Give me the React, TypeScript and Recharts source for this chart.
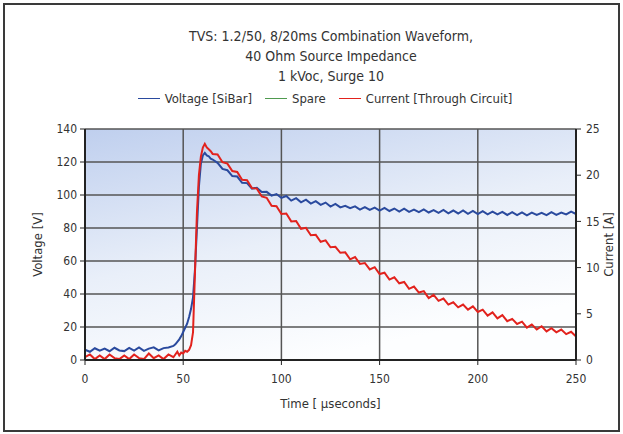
import React from "react";
import {
  ComposedChart,
  Line,
  XAxis,
  YAxis,
  CartesianGrid,
  Legend,
} from "recharts";

const titleLines = [
  "TVS: 1.2/50, 8/20ms Combination Waveform,",
  "40 Ohm Source Impedance",
  "1 kVoc, Surge 10",
];

const timeUs = [
  0, 2.5, 5, 7.5, 10, 12.5, 15, 17.5, 20, 22.5, 25, 27.5, 30, 32.5, 35, 37.5, 40, 42.5,
  45, 46, 47, 48, 49, 50, 51, 52, 53, 54, 55, 56, 57, 58, 59, 60, 61, 62, 63, 64, 65,
  67.5, 70, 72.5, 75, 77.5, 80, 82.5, 85, 87.5, 90, 92.5, 95, 97.5, 100, 102.5, 105,
  107.5, 110, 112.5, 115, 117.5, 120, 122.5, 125, 127.5, 130, 132.5, 135, 137.5, 140,
  142.5, 145, 147.5, 150, 152.5, 155, 157.5, 160, 162.5, 165, 167.5, 170, 172.5, 175,
  177.5, 180, 182.5, 185, 187.5, 190, 192.5, 195, 197.5, 200, 202.5, 205, 207.5, 210,
  212.5, 215, 217.5, 220, 222.5, 225, 227.5, 230, 232.5, 235, 237.5, 240, 242.5, 245,
  247.5, 250,
];

const voltageSiBar = [
  6.2, 5.0, 7.1, 5.6, 6.9, 5.3, 7.4, 5.8, 5.4, 7.3, 5.7, 7.6, 5.5, 6.9, 7.7, 5.8, 7.2, 7.6,
  8.5, 9.5, 11, 12.5, 14.5, 17, 19.5, 22, 26, 31, 38, 55, 80, 105, 119, 124, 125.5, 124,
  123.5, 122, 121.5,
  119.5, 115.8, 115.0, 111.5, 111.2, 107.4, 107.2, 103.9, 104.4, 101.8, 101.9, 99.6, 100.6,
  98.2, 99.4, 96.6, 98.1, 95.6, 97.2, 94.8, 96.3, 94.0, 95.4, 93.0, 94.6, 92.5, 93.4, 92.0,
  93.1, 91.2, 92.7, 91.0, 92.3, 90.6, 92.2, 90.3, 91.8, 89.9, 91.7, 89.8, 91.2, 89.6, 91.3,
  89.4, 90.8, 89.2, 91.0, 88.9, 90.6, 88.8, 90.7, 88.6, 90.3, 88.4, 90.2, 88.3, 89.9, 88.2,
  89.8, 87.9, 89.6, 87.8, 89.5, 87.7, 89.3, 87.9, 89.2, 87.8, 89.6, 88.0, 89.4, 88.2, 89.9,
  88.5,
];

const currentThroughCircuit = [
  0.3, 0.6, 0.1, 0.5, 0.1, 0.6, 0.2, 0.1, 0.5, 0.1, 0.6, 0.2, 0.1, 0.7, 0.2, 0.5, 0.1, 0.6,
  0.3, 0.6, 0.9, 0.5, 0.8, 0.7, 1.0, 0.9, 1.1, 1.6, 3.0, 9.5, 16.0, 20.0, 22.0, 23.0, 23.4,
  23.0, 22.8, 22.6, 22.3,
  22.25, 21.4, 21.25, 20.45, 20.35, 19.5, 19.45, 18.6, 18.55, 17.7,
  17.55, 16.7, 16.65, 15.8, 15.85, 15.0, 15.05, 14.2, 14.3, 13.5,
  13.55, 12.8, 12.95, 12.2, 12.25, 11.6, 11.65, 10.9, 11.15, 10.4,
  10.5, 9.8, 10.05, 9.3, 9.45, 8.7, 8.95, 8.3, 8.45, 7.7,
  7.95, 7.3, 7.45, 6.7, 7.05, 6.4, 6.65, 6.0, 6.25, 5.7,
  6.0, 5.45, 5.8, 5.2, 5.45, 4.8, 5.15, 4.5, 4.85, 4.2,
  4.45, 3.9, 4.15, 3.5, 3.85, 3.3, 3.65, 3.1, 3.45, 3.0,
  3.3, 2.8, 3.05, 2.55,
];

const timeTicks = [0, 50, 100, 150, 200, 250];
const voltageTicks = [0, 20, 40, 60, 80, 100, 120, 140];
const currentTicks = [0, 5, 10, 15, 20, 25];

const seriesNames = {
  voltage: "Voltage [SiBar]",
  spare: "Spare",
  current: "Current [Through Circuit]",
};
const legendOrder = [seriesNames.voltage, seriesNames.spare, seriesNames.current];

const data = timeUs.map((t, i) => ({
  t,
  voltage: voltageSiBar[i],
  current: currentThroughCircuit[i],
}));

const FONT = '"DejaVu Sans Condensed", "DejaVu Sans", sans-serif';
const TEXT = "#333";

const LegendContent = (props: any) => {
  const payload = [...(props.payload || [])].sort(
    (a: any, b: any) => legendOrder.indexOf(a.value) - legendOrder.indexOf(b.value)
  );
  return (
    <div
      style={{
        display: "flex",
        justifyContent: "center",
        alignItems: "center",
        fontFamily: FONT,
        fontSize: 13,
        color: TEXT,
        paddingLeft: 40,
      }}
    >
      {payload.map((p: any) => (
        <div
          key={p.value}
          style={{ display: "flex", alignItems: "center", marginRight: 13 }}
        >
          <div
            style={{
              width: 22,
              height: 0,
              borderTop: `1.5px solid ${p.color}`,
              marginRight: 5,
            }}
          />
          <span>{p.value}</span>
        </div>
      ))}
    </div>
  );
};

export default function App() {
  return (
    <div
      style={{
        position: "absolute",
        left: 0,
        top: 0,
        width: 623,
        height: 434,
        background: "#fff",
        overflow: "hidden",
      }}
    >
      <div
        style={{
          position: "absolute",
          left: 3,
          top: 3,
          width: 613,
          height: 425,
          border: "2px solid #3a3a3a",
        }}
      />
      <div
        style={{
          position: "absolute",
          left: 0,
          top: 26,
          width: 662,
          textAlign: "center",
          fontFamily: FONT,
          fontSize: 14,
          lineHeight: "20px",
          color: TEXT,
        }}
      >
        {titleLines.map((l) => (
          <div key={l}>{l}</div>
        ))}
      </div>
      <ComposedChart
        width={623}
        height={434}
        data={data}
        margin={{ top: 129, right: 0, bottom: 30, left: 0 }}
        style={{ position: "absolute", left: 0, top: 0 }}
      >
        <defs>
          <linearGradient id="plotBg" x1="0" y1="0" x2="0.45" y2="1">
            <stop offset="0%" stopColor="#bfcfee" />
            <stop offset="55%" stopColor="#e9eff9" />
            <stop offset="100%" stopColor="#fdfeff" />
          </linearGradient>
        </defs>
        <CartesianGrid
          yAxisId="v"
          fill="url(#plotBg)"
          fillOpacity={1}
          stroke="#555"
          strokeWidth={1.5}
          verticalValues={timeTicks}
          horizontalValues={voltageTicks}
        />
        <XAxis
          dataKey="t"
          type="number"
          domain={[0, 250]}
          ticks={timeTicks}
          height={44}
          axisLine={{ stroke: "#222", strokeWidth: 2 }}
          tickLine={{ stroke: "#222" }}
          tickSize={5}
          tickMargin={9}
          tick={{ fill: TEXT, fontSize: 12, fontFamily: FONT }}
          label={{
            value: "Time [ µseconds]",
            position: "insideBottom",
            offset: 2,
            fill: TEXT,
            fontSize: 13,
            fontFamily: FONT,
            dy: 6,
          }}
        />
        <YAxis
          yAxisId="v"
          orientation="left"
          domain={[0, 140]}
          ticks={voltageTicks}
          width={85}
          axisLine={{ stroke: "#222", strokeWidth: 2 }}
          tickLine={{ stroke: "#222" }}
          tickSize={5}
          tickMargin={3}
          tick={{ fill: TEXT, fontSize: 12, fontFamily: FONT }}
          label={{
            value: "Voltage [V]",
            angle: -90,
            position: "center",
            dx: -5,
            fill: TEXT,
            fontSize: 13,
            fontFamily: FONT,
          }}
        />
        <YAxis
          yAxisId="a"
          orientation="right"
          domain={[0, 25]}
          ticks={currentTicks}
          width={47}
          axisLine={{ stroke: "#222", strokeWidth: 2 }}
          tickLine={{ stroke: "#222" }}
          tickSize={5}
          tickMargin={5}
          tick={{ fill: TEXT, fontSize: 12, fontFamily: FONT }}
          label={{
            value: "Current [A]",
            angle: -90,
            position: "center",
            dx: 9,
            fill: TEXT,
            fontSize: 13,
            fontFamily: FONT,
          }}
        />
        <Legend
          layout="horizontal"
          verticalAlign="middle"
          align="center"
          wrapperStyle={{ top: 91, left: 0, width: 623 }}
          content={LegendContent}
        />
        <Line
          yAxisId="v"
          type="linear"
          dataKey="voltage"
          name={seriesNames.voltage}
          stroke="#2a4a9e"
          strokeWidth={2}
          dot={false}
          isAnimationActive={false}
          legendType="plainline"
        />
        <Line
          yAxisId="v"
          type="linear"
          dataKey="spare"
          name={seriesNames.spare}
          stroke="#4f9a4f"
          strokeWidth={2}
          dot={false}
          isAnimationActive={false}
          legendType="plainline"
        />
        <Line
          yAxisId="a"
          type="linear"
          dataKey="current"
          name={seriesNames.current}
          stroke="#e2221d"
          strokeWidth={2}
          dot={false}
          isAnimationActive={false}
          legendType="plainline"
        />
      </ComposedChart>
    </div>
  );
}
